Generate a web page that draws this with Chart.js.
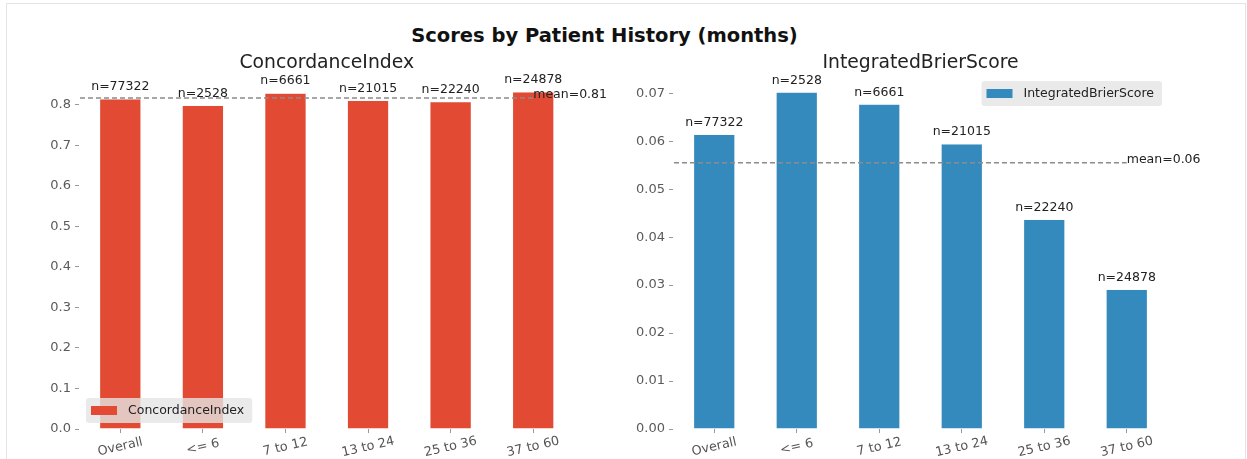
<!DOCTYPE html>
<html>
<head>
<meta charset="utf-8">
<script src="https://cdn.jsdelivr.net/npm/chart.js@4/dist/chart.umd.min.js"></script>
<style>
    body { margin: 0; background: #fff; width: 1247px; height: 459px; overflow: hidden; position: relative; font-family: "DejaVu Sans", sans-serif; }
    #frame { position: absolute; left: 6px; top: 3px; width: 1238px; height: 480px; border: 1px solid #e4e4e4; }
    #suptitle { position: absolute; left: 0; top: 25px; width: 1209px; text-align: center; font-weight: bold; font-size: 19.5px; line-height: 22px; color: #111; }
    #leftChart { position: absolute; left: 0; top: 0; }
    #rightChart { position: absolute; left: 620px; top: 0; }
</style>
</head>
<body>
<div id="frame"></div>
<div id="suptitle">Scores by Patient History (months)</div>
<canvas id="leftChart" width="620" height="459"></canvas>
<canvas id="rightChart" width="627" height="459"></canvas>
<script>
// data
const categories = ['Overall', '<= 6', '7 to 12', '13 to 24', '25 to 36', '37 to 60'];
const sampleCounts = [77322, 2528, 6661, 21015, 22240, 24878];

const concordanceValues = [0.814, 0.798, 0.828, 0.810, 0.807, 0.831];
const concordanceMean = 0.816;
const concordanceMeanLabel = 'mean=0.81';
const concordanceTicks = [0.0, 0.1, 0.2, 0.3, 0.4, 0.5, 0.6, 0.7, 0.8];

const brierValues = [0.0614, 0.0702, 0.0677, 0.0594, 0.0437, 0.0291];
const brierMean = 0.0555;
const brierMeanLabel = 'mean=0.06';
const brierTicks = [0.00, 0.01, 0.02, 0.03, 0.04, 0.05, 0.06, 0.07];

const FONT = '"DejaVu Sans", sans-serif';

// draws the matplotlib-style extras: subplot title, n= labels, mean line, x labels, legend
function extrasPlugin(opts) {
    return {
        id: 'extras',
        afterDatasetsDraw(chart) {
            const ctx = chart.ctx;
            const area = chart.chartArea;
            const xs = chart.scales.x;
            const ys = chart.scales.y;
            const values = chart.data.datasets[0].data;

            ctx.save();

            // subplot title
            ctx.fillStyle = '#222';
            ctx.font = '18.8px ' + FONT;
            ctx.textAlign = 'center';
            ctx.textBaseline = 'middle';
            ctx.fillText(opts.title, (area.left + area.right) / 2, 63);

            // n= labels
            ctx.font = '12.5px ' + FONT;
            values.forEach((v, i) => {
                ctx.fillText('n=' + sampleCounts[i], xs.getPixelForValue(i), ys.getPixelForValue(v) - 12);
            });

            // mean line
            const my = ys.getPixelForValue(opts.mean);
            ctx.strokeStyle = '#8c8c8c';
            ctx.lineWidth = 1.5;
            ctx.setLineDash([5, 3]);
            ctx.beginPath();
            ctx.moveTo(area.left + 1, my);
            ctx.lineTo(xs.getPixelForValue(values.length - 1), my);
            ctx.stroke();
            ctx.setLineDash([]);
            ctx.textAlign = 'left';
            ctx.fillStyle = '#222';
            ctx.fillText(opts.meanLabel, xs.getPixelForValue(values.length - 1), my - 3);

            // rotated category labels
            ctx.fillStyle = '#555';
            ctx.font = '12.8px ' + FONT;
            ctx.textAlign = 'center';
            categories.forEach((c, i) => {
                ctx.save();
                ctx.translate(xs.getPixelForValue(i), area.bottom + 18);
                ctx.rotate(-13 * Math.PI / 180);
                ctx.fillText(c, 0, 0);
                ctx.restore();
            });

            // legend
            ctx.font = '12.5px ' + FONT;
            const tw = ctx.measureText(opts.title).width;
            const bw = 5 + 26 + 11 + tw + 8, bh = 25;
            const bx = opts.legendPos === 'lower left' ? area.left + 7 : area.right - 6 - bw;
            const by = opts.legendPos === 'lower left' ? area.bottom - 6 - bh : area.top + 6;
            ctx.fillStyle = 'rgba(229,229,229,0.8)';
            ctx.beginPath();
            ctx.roundRect(bx, by, bw, bh, 3);
            ctx.fill();
            ctx.fillStyle = opts.color;
            ctx.fillRect(bx + 5, by + bh / 2 - 4.5, 26, 9);
            ctx.fillStyle = '#222';
            ctx.textAlign = 'left';
            ctx.fillText(opts.title, bx + 42, by + bh / 2);

            ctx.restore();
        }
    };
}

function makeChart(canvasId, opts) {
    const ctx = document.getElementById(canvasId).getContext('2d');
    return new Chart(ctx, {
        type: 'bar',
        data: {
            labels: categories,
            datasets: [{
                label: opts.title,
                data: opts.values,
                backgroundColor: opts.color,
                borderColor: '#eeeeee',
                borderWidth: 0.5,
                barPercentage: 0.5,
                categoryPercentage: 1.0,
            }]
        },
        options: {
            responsive: false,
            animation: false,
            events: [],
            layout: { padding: { left: 0, right: opts.padRight, top: 75, bottom: 0 } },
            plugins: { legend: { display: false }, tooltip: { enabled: false } },
            scales: {
                x: {
                    offset: true,
                    grid: { offset: false, drawOnChartArea: false, drawTicks: true, tickLength: 4, color: '#999' },
                    border: { display: false },
                    ticks: { display: false },
                    afterFit: s => { s.height = 30; }
                },
                y: {
                    min: 0,
                    max: opts.max,
                    grid: { drawOnChartArea: false, drawTicks: true, tickLength: 4, color: '#999' },
                    border: { display: false },
                    ticks: {
                        color: '#5a5a5a',
                        padding: 4,
                        font: { family: FONT, size: 13 },
                        callback: v => v.toFixed(opts.decimals)
                    },
                    afterBuildTicks: s => { s.ticks = opts.ticks.map(v => ({ value: v })); },
                    afterFit: s => { s.width = opts.axisWidth; }
                }
            }
        },
        plugins: [extrasPlugin(opts)]
    });
}

makeChart('leftChart', {
    title: 'ConcordanceIndex',
    values: concordanceValues,
    mean: concordanceMean,
    meanLabel: concordanceMeanLabel,
    ticks: concordanceTicks,
    decimals: 1,
    max: 0.873,
    color: '#E24A33',
    axisWidth: 79,
    padRight: 45.5,
    legendPos: 'lower left'
});

makeChart('rightChart', {
    title: 'IntegratedBrierScore',
    values: brierValues,
    mean: brierMean,
    meanLabel: brierMeanLabel,
    ticks: brierTicks,
    decimals: 2,
    max: 0.0738,
    color: '#348ABD',
    axisWidth: 53,
    padRight: 79,
    legendPos: 'upper right'
});
</script>
</body>
</html>
